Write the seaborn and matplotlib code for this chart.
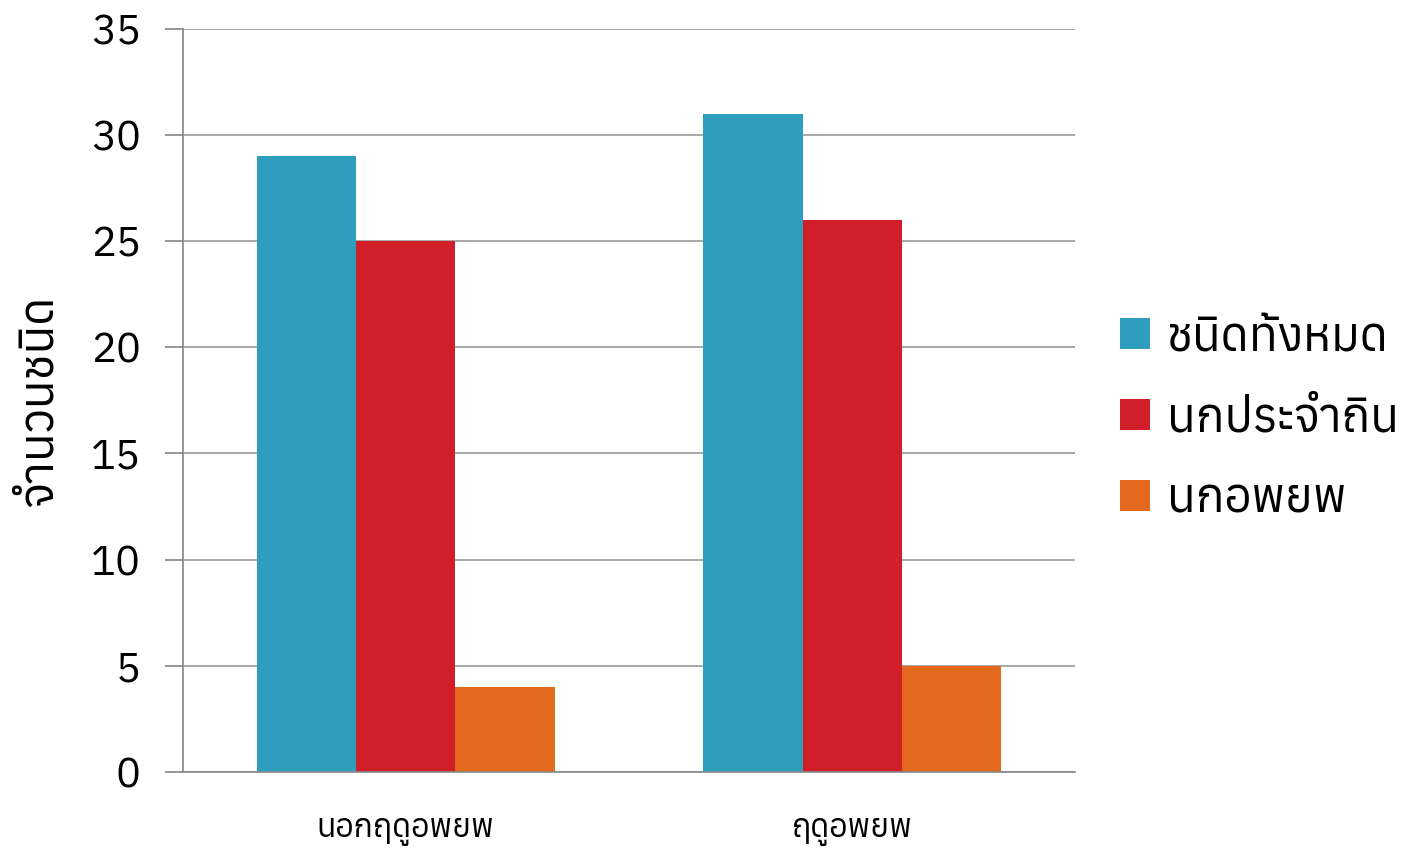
import matplotlib
matplotlib.use("Agg")
import matplotlib.pyplot as plt
from matplotlib import font_manager
from matplotlib.ft2font import FT2Font
import seaborn as sns
import pandas as pd

categories = ["นอกฤดูอพยพ", "ฤดูอพยพ"]
series_names = ["ชนิดทั้งหมด", "นกประจำถิน", "นกอพยพ"]
total_species = [29, 31]
resident_birds = [25, 26]
migrant_birds = [4, 5]
y_label = "จำนวนชนิด"
colors = ["#2F9EBE", "#D11F2A", "#E3691F"]

# find a font with Thai glyphs
thai_fonts = []
for f in font_manager.fontManager.ttflist:
    try:
        cm = FT2Font(f.fname).get_charmap()
        if 0x0E19 in cm and 0x0E01 in cm:
            thai_fonts.append(f.name)
    except Exception:
        pass

sns.set_theme(style="white")
fam = sorted(set(thai_fonts))[:1] + ["DejaVu Sans"]
plt.rcParams['font.family'] = fam

rows = []
for i, c in enumerate(categories):
    for s, vals in zip(series_names, [total_species, resident_birds, migrant_birds]):
        rows.append({"cat": c, "series": s, "value": vals[i]})
df = pd.DataFrame(rows)

fig = plt.figure(figsize=(14.15, 8.5), dpi=100)
ax = fig.add_axes([0.129, 0.092, 0.631, 0.874])
sns.barplot(data=df, x="cat", y="value", hue="series", hue_order=series_names,
            palette=colors, width=0.667, ax=ax, saturation=1, edgecolor="none")
ax.set_ylim(0, 35)
ax.set_xlim(-0.5, 1.5)
ax.set_yticks(range(0, 36, 5))
ax.yaxis.grid(True, color="#9a9a9a", linewidth=1.2)
ax.set_axisbelow(True)
for sp in ["top", "right"]:
    ax.spines[sp].set_visible(False)
ax.spines["left"].set_color("#8a8a8a")
ax.spines["bottom"].set_color("#8a8a8a")
ax.tick_params(axis="y", which="both", left=True, length=13, color="#8a8a8a",
               labelsize=30, pad=17, labelcolor="black")
ax.tick_params(axis="x", bottom=False, labelsize=23, pad=26, labelcolor="black")
ax.set_xlabel("")
ax.set_ylabel(y_label, fontsize=34, labelpad=22, color="black")
leg = ax.legend(loc="center left", bbox_to_anchor=(1.05, 0.476), frameon=False,
                fontsize=34, handlelength=0.64, handleheight=0.64, labelspacing=0.78,
                handletextpad=0.35, borderpad=0, borderaxespad=0)
for t in leg.get_texts():
    t.set_color("black")
fig.savefig("out.png", dpi=100)
